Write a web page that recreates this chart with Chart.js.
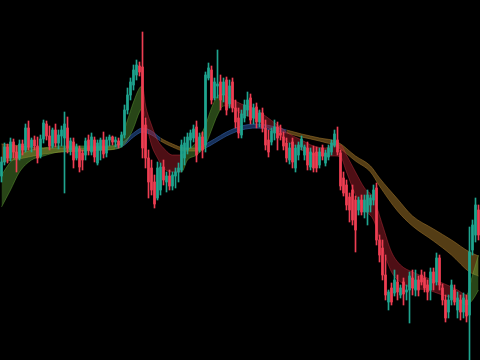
<!DOCTYPE html>
<html><head><meta charset="utf-8">
<script src="https://cdn.jsdelivr.net/npm/chart.js@4.4.0/dist/chart.umd.min.js"></script>
<style>html,body{margin:0;padding:0;background:#000;overflow:hidden}#c{display:block}</style>
</head><body><canvas id="c" width="480" height="360"></canvas>
<script>
// OHLC candles (arbitrary price units)
const open = [184,198,213,202,218,208,202,216,210,232, 213,220,214,204,221,236,224,214,230,217, 224,222,232,210,218,202,211,207,205,220, 208,220,197,210,220,207,220,223,218,219, 215,225,250,265,275,285,294,293,235,202, 192,178,162,170,193,178,184,174,184,188, 190,202,210,220,222,233,210,223,215,282, 290,262,274,278,265,280,256,278,252,242, 225,242,250,262,242,253,238,247,232,220, 218,227,233,227,223,217,200,218,192,205, 213,205,212,193,207,208,195,212,197,203, 208,215,220,207,182,175,163,170,160,150, 160,148,148,155,160,172,120,112,85,58, 72,67,78,65,78,68,70,82,70,80, 85,82,75,70,88,78,102,72,60,48, 60,70,50,60,48,60,45,110,125,150];
const high = [203,217,216,222,221,214,220,220,236,239, 222,224,223,225,240,239,234,232,236,230, 234,248,243,222,222,216,214,210,222,225, 227,223,220,222,228,223,225,224,223,222, 228,255,272,282,295,300,298,328,242,210, 200,185,198,197,200,188,190,188,192,197, 220,223,227,230,235,239,227,228,288,297, 294,282,310,285,282,283,280,282,260,252, 250,260,268,266,256,257,250,252,240,230, 232,240,238,235,228,222,217,222,215,218, 224,215,218,212,214,213,212,215,210,215, 220,230,233,210,188,180,167,175,164,163, 165,165,170,165,175,177,125,120,105,70, 77,90,85,75,82,75,88,90,90,84, 90,88,80,92,92,107,105,76,65,65, 80,75,68,65,67,65,133,140,162,155];
const low = [178,195,197,199,202,188,200,205,208,210, 208,210,197,202,217,220,210,212,213,211, 214,167,207,205,192,200,188,190,200,205, 205,198,195,200,202,203,214,215,213,212, 213,222,246,260,270,280,284,202,192,162, 165,152,160,165,175,168,170,170,172,178, 188,195,206,212,218,198,208,202,208,280, 256,260,262,250,258,245,252,248,232,222, 222,238,244,236,236,232,233,228,210,203, 215,220,210,220,210,198,196,192,188,200, 210,200,190,190,188,188,192,200,194,200, 205,213,205,170,164,150,138,135,108,145, 145,142,135,148,155,115,98,80,60,50, 55,64,60,62,55,60,37,65,64,64, 75,68,60,60,70,75,70,55,38,42, 55,55,42,40,42,38,0,105,118,120];
const close = [198,213,202,218,208,202,216,210,232,213, 220,214,202,221,237,224,214,230,217,225, 230,236,212,219,200,213,193,200,219,210, 223,203,217,220,206,220,223,218,220,215, 225,250,265,278,290,295,288,212,202,178, 170,156,192,193,180,184,174,185,188,192, 215,217,223,227,231,205,223,210,285,292, 260,278,276,260,278,250,274,252,238,227, 246,255,260,240,252,238,247,232,215,208, 229,233,222,225,214,202,212,198,212,215, 221,213,195,208,192,192,208,204,207,212, 217,226,208,174,167,155,150,140,130,160, 148,160,165,162,170,120,105,85,65,68, 58,80,68,72,66,70,84,72,80,70, 78,72,68,88,77,102,75,60,42,60, 75,58,62,48,62,44,108,135,155,125];

// Fast ribbon (candle index, top line, bottom line)
const fastIdx = [0,3,6,10,14,19,26,33,38,40,42,44,46,47,48,50,52,54,57,60,62,65,68,70,72,74,76,80,84,88,92,96,100,104,108,111,113,115,118,121,124,127,130,133,137,142,147,152,155,157,159];
const fastTop = [185,198,205,210,212,214,214,214,215,222,240,258,272,274,255,235,220,212,205,205,210,218,235,252,264,266,262,256,252,244,235,226,220,214,212,215,215,205,188,172,162,135,108,95,88,82,77,70,65,85,105];
const fastBot = [153,170,188,200,204,208,209,210,211,213,220,232,248,252,240,215,202,192,188,188,200,205,215,230,245,254,254,246,242,234,226,217,210,205,204,204,203,188,165,150,140,112,88,78,72,70,65,60,55,60,70];

// Slow ribbon (candle index, top line, bottom line)
const slowIdx = [0,4,9,14,20,27,34,38,41,44,47,50,53,57,61,65,68,71,75,80,85,90,95,100,106,112,118,123,126,132,137,144,150,156,159];
const slowTop = [216,215,213,212,212,212,213,214,219,227,232,229,222,216,212,212,216,221,228,234,236,234,230,226,222,218,204,194,182,161,144,131,120,108,104];
const slowBot = [198,200,203,206,208,209,210,211,215,223,228,225,219,213,209,209,212,217,224,230,232,230,227,223,219,213,199,188,174,149,134,119,105,88,84];
const slowBlueSpans = [[38,53],[68,95]];

const UP = '#1fa58f', DOWN = '#ee3e52';
const idx = open.map((_, i) => i);
const isUp = i => close[i] >= open[i];

const pts = (xs, ys) => xs.map((x, k) => ({x, y: ys[k]}));
const fastRising = c => fastBot[c.p1DataIndex] > fastBot[c.p0DataIndex];
const slowBlue = c => slowBlueSpans.some(([a,b]) => c.p0.parsed.x >= a && c.p1.parsed.x <= b);

const ribbonBase = {type:'line', pointRadius:0, borderWidth:1, cubicInterpolationMode:'monotone'};

new Chart(document.getElementById('c'), {
  data: {
    datasets: [
      {type:'bar', order:0, grouped:false, barThickness:1,
        data: idx.map(i => ({x:i, y:[low[i], high[i]]})),
        backgroundColor: c => isUp(c.dataIndex) ? UP : DOWN},
      {type:'bar', order:0, grouped:false, barThickness:2, minBarLength:1,
        data: idx.map(i => ({x:i, y:[open[i], close[i]]})),
        backgroundColor: c => isUp(c.dataIndex) ? UP : DOWN},
      Object.assign({}, ribbonBase, {order:2, data: pts(slowIdx, slowTop), fill:false,
        segment:{borderColor: c => slowBlue(c) ? 'rgba(50,95,165,0.6)' : 'rgba(150,110,40,0.6)'}}),
      Object.assign({}, ribbonBase, {order:2, data: pts(slowIdx, slowBot), fill:'-1',
        segment:{borderColor: c => slowBlue(c) ? 'rgba(50,95,165,0.6)' : 'rgba(150,110,40,0.6)',
                 backgroundColor: c => slowBlue(c) ? 'rgba(40,85,160,0.55)' : 'rgba(140,102,35,0.6)'}}),
      Object.assign({}, ribbonBase, {order:1, data: pts(fastIdx, fastTop), fill:false,
        segment:{borderColor: c => fastRising(c) ? 'rgba(110,180,60,0.4)' : 'rgba(210,50,65,0.4)'}}),
      Object.assign({}, ribbonBase, {order:1, data: pts(fastIdx, fastBot), fill:'-1',
        segment:{borderColor: c => fastRising(c) ? 'rgba(110,180,60,0.4)' : 'rgba(210,50,65,0.4)',
                 backgroundColor: c => fastRising(c) ? 'rgba(95,165,55,0.42)' : 'rgba(185,35,50,0.42)'}})
    ]
  },
  options: {
    responsive:false, animation:false, events:[],
    layout:{padding:0},
    plugins:{legend:{display:false}, tooltip:{enabled:false}},
    scales:{
      x:{type:'linear', min:-0.5, max:159.5, display:false, offset:false},
      y:{min:0, max:360, display:false}
    }
  }
});
</script></body></html>
